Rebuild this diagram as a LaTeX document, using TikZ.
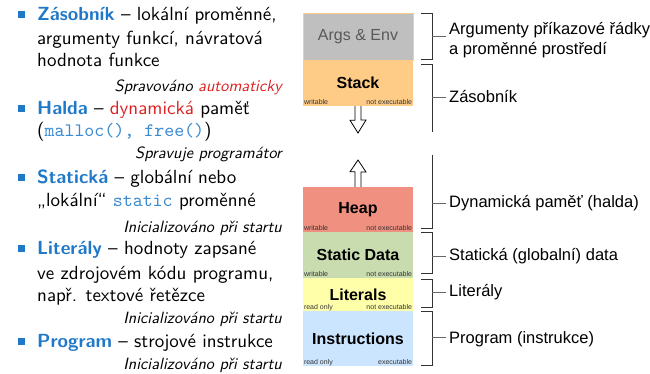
\documentclass[tikz,border=0pt]{standalone}
\usepackage{fontspec}
\newfontfamily\helv{Liberation Sans}
\setsansfont{lmsans}[Extension=.otf,UprightFont=*10-regular,ItalicFont=*10-oblique,BoldFont=*10-bold]
\setmonofont{lmmono}[Extension=.otf,UprightFont=*10-regular]
\definecolor{hdblue}{RGB}{31,120,200}
\definecolor{codeblue}{RGB}{58,138,208}
\definecolor{hlred}{RGB}{221,32,32}
\definecolor{argsc}{RGB}{191,191,191}
\definecolor{stackc}{RGB}{255,204,136}
\definecolor{heapc}{RGB}{240,144,128}
\definecolor{staticc}{RGB}{200,220,176}
\definecolor{litc}{RGB}{255,255,170}
\definecolor{instrc}{RGB}{204,229,255}
\newcommand{\hd}[1]{\textcolor{hdblue}{\textbf{#1}}}
\newcommand{\kod}[1]{\textcolor{codeblue}{\texttt{#1}}}
\begin{document}
\begin{tikzpicture}[x=1pt,y=-1pt]
\tikzstyle{txt}=[anchor=base west,inner sep=0pt,font=\sffamily\fontsize{19}{23}\selectfont]
\tikzstyle{note}=[anchor=base east,inner sep=0pt,font=\sffamily\itshape\fontsize{16.3}{19}\selectfont]
\tikzstyle{bul}=[fill=hdblue,minimum size=7pt,inner sep=0pt]
\tikzstyle{mem}=[minimum width=110pt,inner sep=0pt,font=\helv\bfseries\fontsize{16}{19}\selectfont]
\tikzstyle{flag}=[inner sep=0pt,text=black!80,font=\helv\fontsize{7}{8}\selectfont]
\tikzstyle{hollow}=[draw=black,fill=white,line width=0.8pt,line join=miter]
\tikzstyle{brace}=[draw=black!80,line width=0.8pt]
\tikzstyle{tick}=[draw=black!60,line width=0.8pt]
\tikzstyle{lbl}=[anchor=west,inner sep=0pt,align=left,font=\helv\fontsize{16.5}{20}\selectfont]
\useasboundingbox (0,0) rectangle (650,374);
\foreach \y [count=\i] in {15,109,178,248,341}
  \node[bul] (bul\i) at (21.5,\y) {};
\node[txt] (l1) at (37,21) {\hd{Zásobník} \textendash{} lokální proměnné,};
\node[txt] (l2) at (37,45) {argumenty funkcí, návratová};
\node[txt] (l3) at (37,67) {hodnota funkce};
\node[note] (n1) at (282,92) {Spravováno \textcolor{hlred}{automaticky}};
\node[txt] (l4) at (37,115) {\hd{Halda} \textendash{} \textcolor{hlred}{dynamická} paměť};
\node[txt] (l5) at (37,137) {(\kod{malloc(), free()})};
\node[note] (n2) at (282,159) {Spravuje programátor};
\node[txt] (l6) at (37,184) {\hd{Statická} \textendash{} globální nebo};
\node[txt] (l7) at (37,207) {„lokální“ \kod{static} proměnné};
\node[note] (n3) at (282,232) {Inicializováno při startu};
\node[txt] (l8) at (37,254) {\hd{Literály} \textendash{} hodnoty zapsané};
\node[txt] (l9) at (37,279) {ve zdrojovém kódu programu,};
\node[txt] (l10) at (37,301) {např. textové řetězce};
\node[note] (n4) at (282,323) {Inicializováno při startu};
\node[txt] (l11) at (37,347) {\hd{Program} \textendash{} strojové instrukce};
\node[note] (n5) at (282,369) {Inicializováno při startu};
\node[mem,fill=argsc,draw=stackc,line width=0.8pt,minimum height=47pt,font=\helv\fontsize{16}{19}\selectfont,text=black!65] (args) at (358,36.5) {Args \& Env};
\node[mem,fill=stackc,minimum height=46pt] (stack) at (358,83) {Stack};
\node[mem,fill=heapc,minimum height=45pt] (heap) at (358,209.5) {Heap};
\node[mem,fill=staticc,minimum height=46pt] (static) at (358,255) {Static Data};
\node[mem,fill=litc,minimum height=33pt] (literals) at (358,294.5) {Literals};
\node[mem,fill=instrc,minimum height=55pt] (instr) at (358,338.5) {Instructions};
\foreach \b/\l/\r in {stack/writable/not executable,heap/writable/not executable,static/writable/not executable,literals/read only/not executable,instr/read only/executable}{
  \node[flag,anchor=base west] (\b-l) at ([shift={(1,-2)}]\b.south west) {\l};
  \node[flag,anchor=base east] (\b-r) at ([shift={(-1,-2)}]\b.south east) {\r};
}
\coordinate (dn) at (358,133);
\coordinate (up) at (358,160);
\draw[hollow] ([xshift=-3pt]stack.south) -- ++(0,14) -- ++(-5,0) -- (dn) -- ++(8,-13) -- ++(-5,0) -- ++(0,-14);
\draw[hollow] ([xshift=-3pt]heap.north) -- ++(0,-15) -- ++(-5,0) -- (up) -- ++(8,12) -- ++(-5,0) -- ++(0,15);
\draw[brace] (421,13) -- (432,13) -- (432,59) -- (421,59);
\draw[brace] (421,64) -- (432,64) -- (432,132);
\draw[brace] (432,155) -- (432,228) -- (421,228);
\draw[brace] (421,232) -- (432,232) -- (432,273) -- (421,273);
\draw[brace] (421,279) -- (432,279) -- (432,307) -- (421,307);
\draw[brace] (421,311) -- (432,311) -- (432,365) -- (421,365);
\node[lbl] (r1) at (449,40) {Argumenty příkazové řádky\\a proměnné prostředí};
\node[lbl] (r2) at (449,97) {Zásobník};
\node[lbl] (r3) at (449,203) {Dynamická paměť (halda)};
\node[lbl] (r4) at (449,256) {Statická (globalní) data};
\node[lbl] (r5) at (449,292) {Literály};
\node[lbl] (r6) at (449,339) {Program (instrukce)};
\foreach \y in {36,97,203,256,292,337}
  \draw[tick] (432,\y) -- (446,\y);
\end{tikzpicture}
\end{document}
